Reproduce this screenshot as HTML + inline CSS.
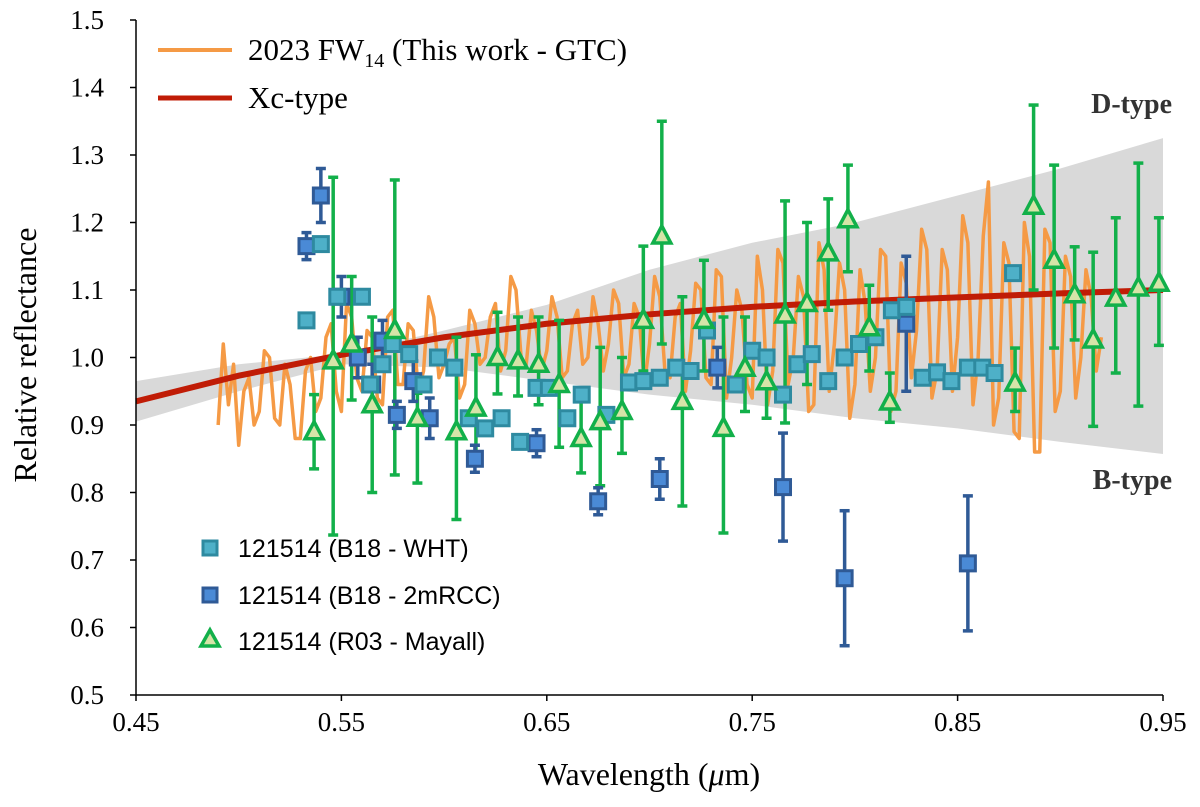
<!DOCTYPE html>
<html><head><meta charset="utf-8"><style>
body{margin:0;background:#fff;}
svg{display:block;font-family:"Liberation Serif",serif;}
</style></head><body>
<svg id="chart" width="1200" height="807"></svg>
<script>
const specX=[0.4900,0.4925,0.4950,0.4975,0.5000,0.5025,0.5050,0.5075,0.5100,0.5125,0.5150,0.5175,0.5200,0.5225,0.5250,0.5275,0.5300,0.5325,0.5350,0.5375,0.5400,0.5425,0.5450,0.5475,0.5500,0.5525,0.5550,0.5575,0.5600,0.5625,0.5650,0.5675,0.5700,0.5725,0.5750,0.5775,0.5800,0.5825,0.5850,0.5875,0.5900,0.5925,0.5950,0.5975,0.6000,0.6025,0.6050,0.6075,0.6100,0.6125,0.6150,0.6175,0.6200,0.6225,0.6250,0.6275,0.6300,0.6325,0.6350,0.6375,0.6400,0.6425,0.6450,0.6475,0.6500,0.6525,0.6550,0.6575,0.6600,0.6625,0.6650,0.6675,0.6700,0.6725,0.6750,0.6775,0.6800,0.6825,0.6850,0.6875,0.6900,0.6925,0.6950,0.6975,0.7000,0.7025,0.7050,0.7075,0.7100,0.7125,0.7150,0.7175,0.7200,0.7225,0.7250,0.7275,0.7300,0.7325,0.7350,0.7375,0.7400,0.7425,0.7450,0.7475,0.7500,0.7525,0.7550,0.7575,0.7600,0.7625,0.7650,0.7675,0.7700,0.7725,0.7750,0.7775,0.7800,0.7825,0.7850,0.7875,0.7900,0.7925,0.7950,0.7975,0.8000,0.8025,0.8050,0.8075,0.8100,0.8125,0.8150,0.8175,0.8200,0.8225,0.8250,0.8275,0.8300,0.8325,0.8350,0.8375,0.8400,0.8425,0.8450,0.8475,0.8500,0.8525,0.8550,0.8575,0.8600,0.8625,0.8650,0.8675,0.8700,0.8725,0.8750,0.8775,0.8800,0.8825,0.8850,0.8875,0.8900,0.8925,0.8950,0.8975,0.9000,0.9025,0.9050,0.9075,0.9100,0.9125,0.9150,0.9175,0.9200];
const specY=[0.90,1.02,0.93,0.99,0.87,0.95,0.97,0.90,0.92,1.01,1.00,0.91,0.90,0.99,0.96,0.88,0.88,0.98,1.00,0.92,0.94,1.03,1.05,0.95,0.92,1.08,1.06,0.97,0.95,1.04,1.03,0.94,0.93,1.06,1.07,0.96,0.96,1.05,1.04,0.95,0.98,1.09,1.06,0.97,0.99,1.02,1.03,0.94,0.96,1.07,1.05,0.99,1.00,1.06,1.08,0.98,1.01,1.12,1.10,1.00,0.99,1.07,1.04,0.98,1.01,1.09,1.06,0.97,0.98,1.05,1.07,0.99,1.00,1.09,1.05,0.98,1.02,1.10,1.08,0.97,0.99,1.08,1.06,0.96,1.02,1.12,1.09,0.98,0.97,1.06,1.08,0.95,1.01,1.11,1.10,0.97,0.96,1.13,1.12,0.94,1.00,1.10,1.07,0.96,0.94,1.15,1.10,0.93,0.98,1.16,1.14,0.96,1.00,1.12,1.09,0.92,0.93,1.17,1.13,0.95,1.02,1.14,1.10,0.91,0.96,1.13,1.08,0.95,1.00,1.16,1.15,0.92,0.95,1.14,1.11,0.97,1.04,1.19,1.16,0.94,0.98,1.16,1.13,0.95,1.03,1.21,1.17,0.93,1.00,1.18,1.26,0.90,0.94,1.17,1.14,0.89,0.88,1.20,1.15,0.86,0.86,1.19,1.17,0.92,0.95,1.15,1.12,0.94,1.00,1.13,1.09,0.98,1.03];
const xcX=[0.45,0.50,0.55,0.60,0.65,0.70,0.75,0.80,0.85,0.90,0.95];
const xcY=[0.935,0.973,1.004,1.030,1.050,1.064,1.075,1.083,1.089,1.095,1.100];
const bandUp=[0.965,0.99,1.005,1.04,1.078,1.13,1.17,1.20,1.24,1.28,1.325];
const bandLo=[0.905,0.95,0.99,0.985,0.965,0.945,0.93,0.91,0.895,0.875,0.857];
const whtX=[0.533,0.540,0.548,0.560,0.564,0.570,0.575,0.583,0.590,0.597,0.605,0.612,0.620,0.628,0.637,0.645,0.651,0.660,0.667,0.679,0.690,0.697,0.705,0.713,0.720,0.728,0.742,0.750,0.757,0.765,0.772,0.779,0.787,0.795,0.802,0.810,0.818,0.825,0.833,0.840,0.847,0.855,0.862,0.868,0.877];
const whtY=[1.055,1.168,1.09,1.09,0.96,0.99,1.02,1.005,0.96,1.0,0.985,0.91,0.895,0.91,0.875,0.955,0.955,0.91,0.945,0.915,0.963,0.965,0.97,0.985,0.98,1.04,0.96,1.01,1.0,0.945,0.99,1.005,0.965,1.0,1.02,1.03,1.07,1.075,0.97,0.978,0.965,0.985,0.985,0.977,1.125];
const rccX=[0.533,0.540,0.550,0.558,0.565,0.570,0.577,0.585,0.593,0.615,0.645,0.675,0.705,0.733,0.765,0.795,0.825,0.855];
const rccY=[1.165,1.24,1.09,1.0,0.96,1.025,0.915,0.965,0.91,0.85,0.873,0.787,0.82,0.985,0.808,0.673,1.05,0.695];
const rccErr=[0.02,0.04,0.03,0.03,0.03,0.03,0.02,0.03,0.03,0.02,0.02,0.02,0.03,0.03,0.08,0.10,0.10,0.10];
const mayX=[0.5367,0.546,0.555,0.565,0.576,0.587,0.606,0.6155,0.626,0.636,0.646,0.656,0.6667,0.676,0.6866,0.697,0.706,0.716,0.7265,0.736,0.7465,0.757,0.766,0.7767,0.787,0.7966,0.807,0.817,0.878,0.887,0.897,0.907,0.916,0.927,0.938,0.948];
const mayY=[0.89,0.995,1.02,0.93,1.04,0.91,0.89,0.925,1.0,0.995,0.99,0.96,0.88,0.905,0.92,1.055,1.18,0.935,1.055,0.895,0.984,0.964,1.063,1.08,1.155,1.204,1.044,0.934,0.962,1.224,1.144,1.093,1.026,1.088,1.103,1.110];
const mayHi=[0.945,1.267,1.12,1.06,1.263,0.947,1.03,1.004,1.067,1.06,1.06,1.055,0.94,1.015,1.0,1.165,1.35,1.09,1.144,1.06,1.06,1.01,1.232,1.20,1.235,1.285,1.107,0.977,1.014,1.374,1.285,1.164,1.156,1.207,1.288,1.207];
const mayLo=[0.835,0.737,0.937,0.80,0.826,0.814,0.76,0.86,0.946,0.943,0.93,0.867,0.829,0.81,0.858,0.98,1.02,0.78,0.98,0.74,0.92,0.91,0.903,0.96,1.07,1.127,0.98,0.904,0.92,1.10,1.014,1.026,0.898,0.977,0.928,1.018];
const xTicks=["0.45","0.55","0.65","0.75","0.85","0.95"];
const yTicks=["0.5","0.6","0.7","0.8","0.9","1.0","1.1","1.2","1.3","1.4","1.5"];

const NS="http://www.w3.org/2000/svg";
const svg=document.getElementById('chart');
const X=v=>136+(v-0.45)*2054;
const Y=v=>695-(v-0.5)*675;
function mk(tag,attrs,parent){const e=document.createElementNS(NS,tag);for(const k in attrs)e.setAttribute(k,attrs[k]);(parent||svg).appendChild(e);return e;}

let d='M'+xcX.map((x,i)=>X(x)+','+Y(bandUp[i])).join('L')+'L'+xcX.slice().reverse().map((x,i)=>X(x)+','+Y(bandLo[bandLo.length-1-i])).join('L')+'Z';
let band=mk('path',{d:d,fill:'#d9d9d9'});



let sp=mk('polyline',{points:specX.map((x,i)=>X(x)+','+Y(specY[i])).join(' '),fill:'none',stroke:'#f59a45','stroke-width':3.5,'stroke-linejoin':'round'});



let xc=mk('polyline',{points:xcX.map((x,i)=>X(x)+','+Y(xcY[i])).join(' '),fill:'none',stroke:'#c01c06','stroke-width':6});



mayX.forEach((x,i)=>{
  const g=mk('g',{stroke:'#12b04a','stroke-width':3.5});
  
  
  mk('line',{x1:X(x),x2:X(x),y1:Y(mayHi[i]),y2:Y(mayLo[i])},g);
  mk('line',{x1:X(x)-5,x2:X(x)+5,y1:Y(mayHi[i]),y2:Y(mayHi[i])},g);
  mk('line',{x1:X(x)-5,x2:X(x)+5,y1:Y(mayLo[i]),y2:Y(mayLo[i])},g);
});
rccX.forEach((x,i)=>{
  const g=mk('g',{});
  
  
  const hi=Y(rccY[i]+rccErr[i]),lo=Y(rccY[i]-rccErr[i]);
  mk('line',{x1:X(x),x2:X(x),y1:hi,y2:lo,stroke:'#2f5a96','stroke-width':3.5},g);
  mk('line',{x1:X(x)-5,x2:X(x)+5,y1:hi,y2:hi,stroke:'#2f5a96','stroke-width':3.5},g);
  mk('line',{x1:X(x)-5,x2:X(x)+5,y1:lo,y2:lo,stroke:'#2f5a96','stroke-width':3.5},g);
  mk('rect',{x:X(x)-7.5,y:Y(rccY[i])-7.5,width:15,height:15,fill:'#4a8ad6',stroke:'#2f5a96','stroke-width':3},g);
});
whtX.forEach((x,i)=>{
  const r=mk('rect',{x:X(x)-7.5,y:Y(whtY[i])-7.5,width:15,height:15,fill:'#4eb0c8',stroke:'#2e8aa0','stroke-width':3});
  
  
});
mayX.forEach((x,i)=>{
  const cx=X(x),cy=Y(mayY[i]);
  const t=mk('polygon',{points:`${cx},${cy-10} ${cx+9},${cy+7} ${cx-9},${cy+7}`,fill:'#d6e4a8',stroke:'#12b04a','stroke-width':3.5});
  
  
});

let ax=mk('path',{d:'M136,20 V695 H1163',fill:'none',stroke:'#000','stroke-width':1.5});


yTicks.forEach(t=>{
  const y=Y(parseFloat(t));
  mk('line',{x1:130,x2:136,y1:y,y2:y,stroke:'#000','stroke-width':1.5});
  const e=mk('text',{x:104,y:y+9,'text-anchor':'end','font-size':27});
  e.textContent=t;
  
  
});
xTicks.forEach(t=>{
  const x=X(parseFloat(t));
  mk('line',{x1:x,x2:x,y1:695,y2:701,stroke:'#000','stroke-width':1.5});
  const e=mk('text',{x:x,y:731,'text-anchor':'middle','font-size':27});
  e.textContent=t;
  
  
});
</script>
<svg style="position:absolute;left:0;top:0" width="1200" height="807">
<text x="36" y="355" transform="rotate(-90 36 355)" text-anchor="middle" font-size="32" font-family="Liberation Serif, serif">Relative reflectance</text>
<text x="649" y="785" text-anchor="middle" font-size="32" font-family="Liberation Serif, serif">Wavelength (<tspan font-style="italic">μ</tspan>m)</text>
<text x="1172" y="113" text-anchor="end" font-size="28" font-weight="bold" fill="#333" font-family="Liberation Serif, serif">D-type</text>
<text x="1172" y="489" text-anchor="end" font-size="28" font-weight="bold" fill="#333" font-family="Liberation Serif, serif">B-type</text>
<g font-family="Liberation Serif, serif" font-size="31">
<line x1="158" y1="50" x2="232" y2="50" stroke="#f59a45" stroke-width="4"/>
<text x="248" y="60">2023 FW<tspan font-size="20" dy="7">14</tspan><tspan dy="-7"> (This work - GTC)</tspan></text>
<line x1="158" y1="98" x2="232" y2="98" stroke="#c01c06" stroke-width="5"/>
<text x="248" y="108">Xc-type</text>
</g>
<g font-family="Liberation Sans, sans-serif" font-size="25">
<rect x="203" y="541" width="14" height="14" fill="#4eb0c8" stroke="#2e8aa0" stroke-width="3"/>
<text x="238" y="557">121514 (B18 - WHT)</text>
<rect x="203" y="588" width="14" height="14" fill="#4a8ad6" stroke="#2f5a96" stroke-width="3"/>
<text x="238" y="604">121514 (B18 - 2mRCC)</text>
<polygon points="210,630 219,646 201,646" fill="#d6e4a8" stroke="#12b04a" stroke-width="3.5"/>
<text x="238" y="650">121514 (R03 - Mayall)</text>
</g>
</svg>
</body></html>
